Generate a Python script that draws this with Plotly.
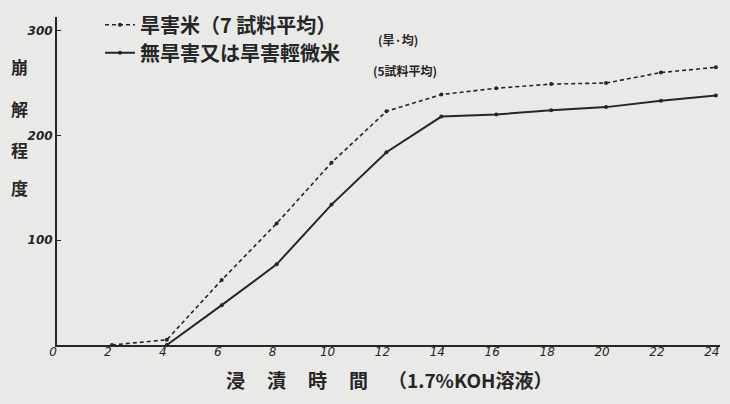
import plotly.graph_objects as go

# Data
hours_damaged = [2, 4, 6, 8, 10, 12, 14, 16, 18, 20, 22, 24]
values_damaged = [0, 5, 62, 116, 174, 223, 239, 245, 249, 250, 260, 265]
hours_sound = [4, 6, 8, 10, 12, 14, 16, 18, 20, 22, 24]
values_sound = [0, 38, 77, 134, 184, 218, 220, 224, 227, 233, 238]

x_ticks = [0, 2, 4, 6, 8, 10, 12, 14, 16, 18, 20, 22, 24]
y_ticks = [100, 200, 300]

name_damaged = "旱害米（7 試料平均）"
name_sound = "無旱害又は旱害輕微米"
y_title_chars = ["崩", "解", "程", "度"]
x_title_chars = ["浸", "漬", "時", "間"]
x_title_note = "（1.7%KOH溶液）"
note_top = "(旱·均)"
note_avg = "(5試料平均)"

ink = "#262626"
paper = "#e9e9e7"
cjk = "Noto Sans CJK JP"

# plot-area geometry in pixels (for placing free text)
L, T, W, H = 57, 5, 663, 340


def px(x):
    return (x - L) / W


def py(y):
    return (T + H - y) / H


fig = go.Figure()
fig.add_trace(go.Scatter(
    x=hours_damaged, y=values_damaged, mode="lines+markers", name=name_damaged,
    line=dict(color=ink, width=1.6, dash="4px,3px"),
    marker=dict(size=4, color=ink), legend="legend"))
fig.add_trace(go.Scatter(
    x=hours_sound, y=values_sound, mode="lines+markers", name=name_sound,
    line=dict(color=ink, width=2), marker=dict(size=4, color=ink), legend="legend2"))

legend_common = dict(font=dict(family=cjk, size=20, color=ink, weight="bold"),
                     bgcolor="rgba(0,0,0,0)", itemwidth=30,
                     xanchor="left", yanchor="middle")


def label(text, x, y, size, weight="bold"):
    return dict(text=text, xref="paper", yref="paper", x=px(x), y=py(y),
                xanchor="center", yanchor="middle", showarrow=False,
                font=dict(family=cjk, size=size, color=ink, weight=weight))


annotations = []
for ch, cy in zip(y_title_chars, [56, 100, 142, 182]):
    annotations.append(label(ch, 19, cy, 17))
for ch, cx in zip(x_title_chars, [235, 276, 317, 358]):
    annotations.append(label(ch, cx, 381, 19))
annotations.append(label(x_title_note, 470, 381, 19))
annotations.append(label(note_top, 398, 28, 12))
annotations.append(label(note_avg, 405, 60, 12))

fig.update_layout(
    width=730, height=404,
    margin=dict(l=L, r=730 - L - W, t=T, b=404 - T - H),
    paper_bgcolor=paper, plot_bgcolor=paper,
    showlegend=True,
    legend=dict(x=px(100), y=py(13), **legend_common),
    legend2=dict(x=px(100), y=py(42), **legend_common),
    annotations=annotations,
    xaxis=dict(range=[0, 24.15], tickvals=x_ticks, ticktext=[str(v) for v in x_ticks],
               showgrid=False, zeroline=False, showline=True, linecolor=ink, linewidth=2,
               ticks="", ticklabelstandoff=-5, ticklabelshift=-4,
               tickfont=dict(family="DejaVu Sans", size=12, color=ink, style="italic")),
    yaxis=dict(range=[0, 313], tickvals=y_ticks, ticktext=[str(v) for v in y_ticks],
               showgrid=False, zeroline=False, showline=True, linecolor=ink, linewidth=2,
               ticks="inside", ticklen=4, tickcolor=ink,
               tickfont=dict(family="DejaVu Sans", size=12, color=ink, style="italic", weight="bold")),
)

fig.write_html("out.html", config={"displayModeBar": False},
               post_script="document.body.style.margin='0';")
